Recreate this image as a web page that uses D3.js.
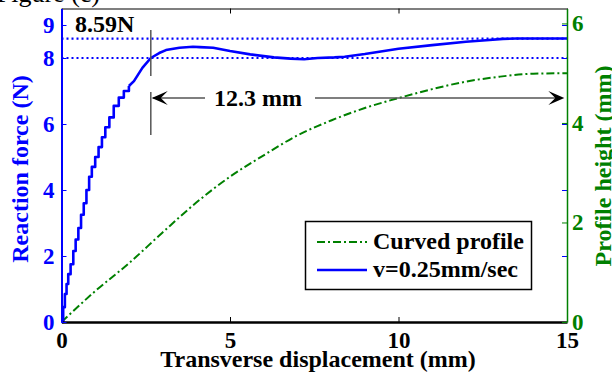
<!DOCTYPE html>
<html><head><meta charset="utf-8">
<script src="https://cdn.jsdelivr.net/npm/d3@7/dist/d3.min.js"></script>
<style>
html,body{margin:0;padding:0;background:#fff;overflow:hidden;}
svg{display:block;font-family:"Liberation Serif","Times New Roman",serif;}
</style></head>
<body>
<svg id="chart" width="612" height="372"></svg>
<script>
// ---- data ----
// rising part (recorded as a staircase)
const riseX = [0,0.05,0.1,0.15,0.2,0.27,0.35,0.42,0.5,0.58,0.66,0.74,0.82,0.9,1.0,1.1,1.2,1.3,1.42,1.55,1.7,1.85,2.0];
const riseY = [0,0.45,0.85,1.15,1.45,1.75,2.15,2.5,2.85,3.25,3.6,4.0,4.4,4.7,5.0,5.3,5.6,5.9,6.2,6.55,6.8,7.0,7.15];
// remainder of the force curve
const forceX = [2.0,2.15,2.4,2.65,2.9,3.1,3.5,3.9,4.1,4.5,5.0,5.6,6.3,6.8,7.2,7.6,8.1,8.4,9.0,10.0,11.0,12.0,12.6,13.1,13.5,15];
const forceY = [7.15,7.3,7.7,8.0,8.15,8.24,8.31,8.34,8.33,8.31,8.21,8.11,8.02,7.98,7.96,8.0,8.02,8.04,8.12,8.28,8.39,8.49,8.54,8.58,8.59,8.59];
const profileX = [0,1,2,3,4,5,6,7,8,9,10,11,12,13,14,15];
const profileY = [0,0.62,1.18,1.8,2.4,2.92,3.35,3.75,4.05,4.3,4.5,4.68,4.83,4.93,4.99,5.0];
const xTicks = [0,5,10,15];
const yLeftTicks = [0,2,4,6,8,9];
const yRightTicks = [0,2,4,6];
const refLines = [8.59, 8];
const refLabel = "8.59N";
const spanStart = 2.65, spanLength = 12.3;
const spanLabel = "12.3 mm";
const legendItems = ["Curved profile", "v=0.25mm/sec"];
const xTitle = "Transverse displacement (mm)";
const yLeftTitle = "Reaction force (N)";
const yRightTitle = "Profile height (mm)";
const caption = "Figure (c)";

// ---- setup ----
const svg = d3.select("#chart");
const BLUE = "#0000ff", GREEN = "#008000", GRAY = "#555555";
const x = d3.scaleLinear().domain([0,15]).range([61.5,567]);
const yL = d3.scaleLinear().domain([0,9.5]).range([322,8.5]);
const yR = d3.scaleLinear().domain([0,6.3]).range([322,8.5]);

// partially cropped caption at top
svg.append("text").attr("x",100).attr("y",2).attr("text-anchor","end")
  .attr("font-size",26).text(caption);

// reference dotted lines
svg.selectAll(".ref").data(refLines).enter().append("line")
  .attr("x1",x(0)).attr("x2",x(15)).attr("y1",d=>yL(d)).attr("y2",d=>yL(d))
  .attr("stroke",BLUE).attr("stroke-width",2.2).attr("stroke-dasharray","2,3");

// profile curve
const profData = profileX.map((v,i)=>[v,profileY[i]]);
svg.append("path").datum(profData)
  .attr("d", d3.line().x(d=>x(d[0])).y(d=>yR(d[1])).curve(d3.curveMonotoneX))
  .attr("fill","none").attr("stroke",GREEN).attr("stroke-width",2)
  .attr("stroke-dasharray","8,3,2,3");

// force curve
const riseData = riseX.map((v,i)=>[v,riseY[i]]);
svg.append("path").datum(riseData)
  .attr("d", d3.line().x(d=>x(d[0])).y(d=>yL(d[1])).curve(d3.curveStepAfter))
  .attr("fill","none").attr("stroke",BLUE).attr("stroke-width",2.6).attr("stroke-linejoin","round");
const forceData = forceX.map((v,i)=>[v,forceY[i]]);
svg.append("path").datum(forceData)
  .attr("d", d3.line().x(d=>x(d[0])).y(d=>yL(d[1])))
  .attr("fill","none").attr("stroke",BLUE).attr("stroke-width",2.6).attr("stroke-linejoin","round");

// annotations: vertical markers
const vx = x(spanStart);
svg.append("line").attr("x1",vx).attr("x2",vx).attr("y1",30).attr("y2",76)
  .attr("stroke",GRAY).attr("stroke-width",1.5);
svg.append("line").attr("x1",vx).attr("x2",vx).attr("y1",92).attr("y2",135)
  .attr("stroke",GRAY).attr("stroke-width",1.5);
svg.append("text").attr("x",75).attr("y",32).attr("font-size",24).attr("font-weight","bold")
  .text(refLabel);

// span arrow
const ay = 98;
const xe = x(spanStart + spanLength);
svg.append("line").attr("x1",vx+2).attr("x2",205).attr("y1",ay).attr("y2",ay).attr("stroke",GRAY).attr("stroke-width",1.5);
svg.append("line").attr("x1",315).attr("x2",xe-4).attr("y1",ay).attr("y2",ay).attr("stroke",GRAY).attr("stroke-width",1.5);
svg.append("path").attr("d",`M${vx+1},${ay} L${vx+17},${ay-7} L${vx+10},${ay} L${vx+17},${ay+7} Z`).attr("fill","#000");
svg.append("path").attr("d",`M${xe-1},${ay} L${xe-17},${ay-7} L${xe-10},${ay} L${xe-17},${ay+7} Z`).attr("fill","#000");
svg.append("text").attr("x",258).attr("y",106).attr("text-anchor","middle")
  .attr("font-size",24).attr("font-weight","bold").text(spanLabel);

// legend
const lg = svg.append("g");
lg.append("rect").attr("x",305.5).attr("y",221.5).attr("width",226).attr("height",68)
  .attr("fill","#fff").attr("stroke","#000").attr("stroke-width",1.5);
lg.append("line").attr("x1",317).attr("x2",367).attr("y1",242).attr("y2",242)
  .attr("stroke",GREEN).attr("stroke-width",2).attr("stroke-dasharray","8,3,2,3");
lg.append("line").attr("x1",317).attr("x2",367).attr("y1",270).attr("y2",270)
  .attr("stroke",BLUE).attr("stroke-width",2.6);
lg.selectAll("text").data(legendItems).enter().append("text")
  .attr("x",373).attr("y",(d,i)=>249+i*28).attr("font-size",24).attr("font-weight","bold")
  .text(d=>d);

// axes
const fs = 23;
const gB = svg.append("g").attr("transform",`translate(0,${yL(0)})`)
  .call(d3.axisBottom(x).tickValues(xTicks).tickSizeInner(-5).tickSizeOuter(0).tickPadding(10).tickFormat(d3.format("d")));
gB.select(".domain").attr("stroke","#000").attr("stroke-width",2.5);
gB.selectAll(".tick line").attr("stroke","#000");
gB.selectAll("text").attr("font-size",fs).attr("font-weight","bold").attr("fill","#000").attr("font-family","Liberation Serif");

const gT = svg.append("g").attr("transform",`translate(0,${yL(9.5)})`)
  .call(d3.axisTop(x).tickValues(xTicks).tickSizeInner(-5).tickSizeOuter(0).tickFormat(""));
gT.select(".domain").attr("stroke","#000").attr("stroke-width",1.2);
gT.selectAll(".tick line").attr("stroke","#000");

// mirrored left ticks on right side
const gLm = svg.append("g").attr("transform",`translate(${x(15)},0)`)
  .call(d3.axisRight(yL).tickValues(yLeftTicks).tickSizeInner(-5).tickSizeOuter(0).tickFormat(""));
gLm.select(".domain").remove();
gLm.selectAll(".tick line").attr("stroke",BLUE);

const gR = svg.append("g").attr("transform",`translate(${x(15)},0)`)
  .call(d3.axisRight(yR).tickValues(yRightTicks).tickSizeInner(-5).tickSizeOuter(0).tickPadding(5).tickFormat(d3.format("d")));
gR.select(".domain").attr("stroke",GREEN).attr("stroke-width",1.5);
gR.selectAll(".tick line").attr("stroke",GREEN);
gR.selectAll("text").attr("font-size",fs).attr("font-weight","bold").attr("fill",GREEN).attr("font-family","Liberation Serif");

const gL = svg.append("g").attr("transform",`translate(${x(0)},0)`)
  .call(d3.axisLeft(yL).tickValues(yLeftTicks).tickSizeInner(-5).tickSizeOuter(0).tickPadding(7).tickFormat(d3.format("d")));
gL.select(".domain").attr("stroke",BLUE).attr("stroke-width",2);
gL.selectAll(".tick line").attr("stroke",BLUE);
gL.selectAll("text").attr("font-size",fs).attr("font-weight","bold").attr("fill",BLUE).attr("font-family","Liberation Serif");

// titles
svg.append("text").attr("x",318).attr("y",367).attr("text-anchor","middle")
  .attr("font-size",24).attr("font-weight","bold").text(xTitle);
svg.append("text").attr("transform",`translate(28,169) rotate(-90)`).attr("text-anchor","middle")
  .attr("font-size",24).attr("font-weight","bold").attr("fill",BLUE).text(yLeftTitle);
svg.append("text").attr("transform",`translate(611,166) rotate(-90)`).attr("text-anchor","middle")
  .attr("font-size",24).attr("font-weight","bold").attr("fill",GREEN).text(yRightTitle);
</script>
</body></html>
